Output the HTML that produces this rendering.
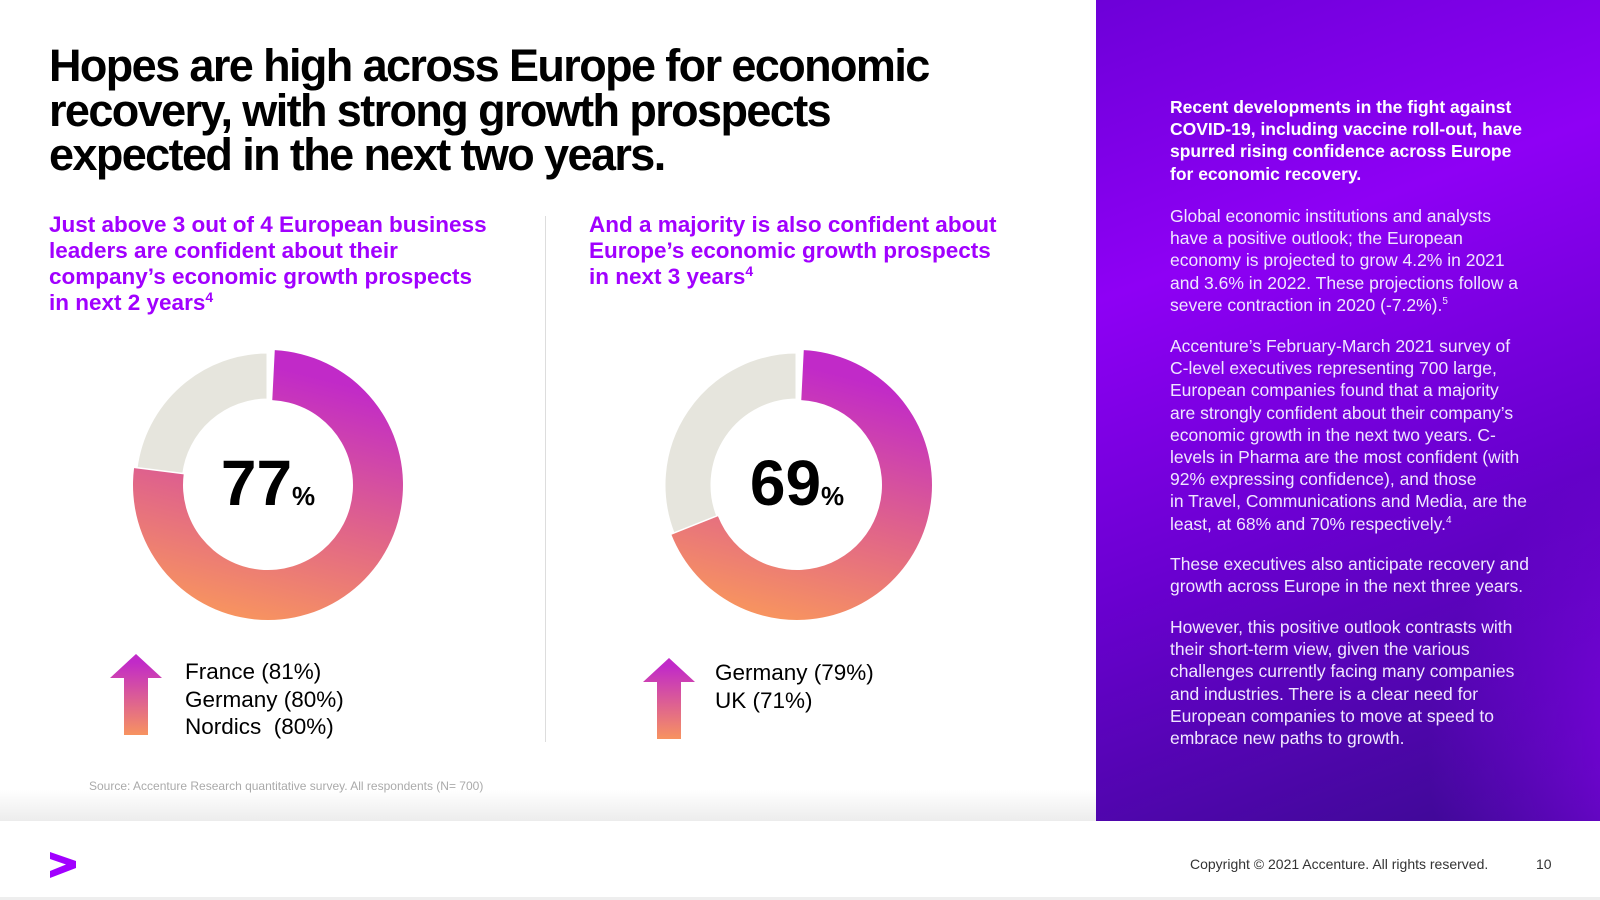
<!DOCTYPE html>
<html><head><meta charset="utf-8"><style>
*{margin:0;padding:0;box-sizing:border-box}
body{width:1600px;height:900px;position:relative;background:#fff;font-family:"Liberation Sans",sans-serif;overflow:hidden}
.abs{position:absolute}
h1{position:absolute;left:49px;top:44px;font-size:45px;line-height:44.5px;font-weight:bold;letter-spacing:-1.6px;color:#000;width:880px}
.sub{position:absolute;top:212px;font-size:22.5px;line-height:26px;font-weight:bold;color:#a100ff}
.sub sup{font-size:14px;line-height:0;vertical-align:8px}
.cty{position:absolute;font-size:22.5px;line-height:27.5px;color:#000}
#panel{position:absolute;left:1096px;top:0;width:504px;height:821px;background:linear-gradient(160deg,#6d00d8 0%,#8e00f5 30%,#6a00d0 60%,#3a0a90 100%);overflow:hidden}
#panel .glow{position:absolute;left:250px;top:400px;width:500px;height:500px;background:radial-gradient(circle at 80% 70%,rgba(150,0,255,.9),rgba(150,0,255,0) 60%)}
#panel p{position:absolute;left:74px;white-space:nowrap;color:#f0e6ff;font-size:17.5px;line-height:22.2px}
#panel p.b{font-weight:bold;color:#fff}
#panel sup{font-size:10px;line-height:0}
</style></head><body>
<h1>Hopes are high across Europe for economic recovery, with strong growth prospects expected in the next two years.</h1>
<div class="sub" style="left:49px;width:450px">Just above 3 out of 4 European business<br>leaders are confident about their<br>company’s economic growth prospects<br>in next 2 years<sup>4</sup></div>
<div class="sub" style="left:589px;width:450px">And a majority is also confident about<br>Europe’s economic growth prospects<br>in next 3 years<sup>4</sup></div>
<div class="abs" style="left:545px;top:216px;width:1px;height:526px;background:#ddd"></div>

<div class="abs" style="left:0;top:790px;width:1096px;height:31px;background:linear-gradient(#fff,#ececec)"></div>

<svg class="abs" style="left:0;top:0" width="1090" height="780" id="charts">
<defs>
<linearGradient id="g1" x1="0.7" y1="0" x2="0.45" y2="1"><stop offset="0.1" stop-color="#c12ac8"/><stop offset="0.6" stop-color="#e0648a"/><stop offset="1" stop-color="#f79360"/></linearGradient>
<linearGradient id="ga" x1="0" y1="0" x2="0" y2="1"><stop offset="0.1" stop-color="#c12ac8"/><stop offset="1" stop-color="#f79360"/></linearGradient>
</defs>
</svg>

<div class="cty" style="left:185px;top:658px">France (81%)<br>Germany (80%)<br>Nordics&nbsp; (80%)</div>
<div class="cty" style="left:715px;top:659px">Germany (79%)<br>UK (71%)</div>
<div class="abs" style="left:89px;top:779px;font-size:12px;color:#aaa;z-index:2">Source: Accenture Research quantitative survey. All respondents (N= 700)</div>

<div id="panel">
<div class="glow"></div>
<p class="b" style="top:96px">Recent developments in the fight against<br>COVID-19, including vaccine roll-out, have<br>spurred rising confidence across Europe<br>for economic recovery.</p>
<p style="top:205px">Global economic institutions and analysts<br>have a positive outlook; the European<br>economy is projected to grow 4.2% in 2021<br>and 3.6% in 2022. These projections follow a<br>severe contraction in 2020 (-7.2%).<sup>5</sup></p>
<p style="top:335px">Accenture’s February-March 2021 survey of<br>C-level executives representing 700 large,<br>European companies found that a majority<br>are strongly confident about their company’s<br>economic growth in the next two years. C-<br>levels in Pharma are the most confident (with<br>92% expressing confidence), and those<br>in Travel, Communications and Media, are the<br>least, at 68% and 70% respectively.<sup>4</sup></p>
<p style="top:553px">These executives also anticipate recovery and<br>growth across Europe in the next three years.</p>
<p style="top:616px">However, this positive outlook contrasts with<br>their short-term view, given the various<br>challenges currently facing many companies<br>and industries. There is a clear need for<br>European companies to move at speed to<br>embrace new paths to growth.</p>
</div>

<svg class="abs" style="left:50px;top:852px" width="26" height="26"><polygon points="0,0 26,9 26,16 0,26 0,19 16,12.5 0,7" fill="#a100ff"/></svg>
<div class="abs" style="left:1190px;top:856px;font-size:14px;color:#333">Copyright © 2021 Accenture. All rights reserved.</div>
<div class="abs" style="left:1536px;top:856px;font-size:14px;color:#333">10</div>
<div class="abs" style="left:0;top:897px;width:1600px;height:3px;background:#eee"></div>

<script>
const chartLabels = ["Next 2 years", "Next 3 years"];
const confidentValues = [77, 69];
const centers = [[268,485],[797,485]];
const svg = document.getElementById('charts');
const NS = 'http://www.w3.org/2000/svg';
const R = 135, r = 85;
function pt(cx,cy,rad,frac){const a=frac*2*Math.PI;return [cx+rad*Math.sin(a),cy-rad*Math.cos(a)];}
function arc(cx,cy,f0,f1,ro,ri){
  const large=(f1-f0)>0.5?1:0;
  const a=pt(cx,cy,ro,f0),b=pt(cx,cy,ro,f1),c=pt(cx,cy,ri,f1),d=pt(cx,cy,ri,f0);
  return `M${a[0]},${a[1]}A${ro},${ro} 0 ${large} 1 ${b[0]},${b[1]}L${c[0]},${c[1]}A${ri},${ri} 0 ${large} 0 ${d[0]},${d[1]}Z`;
}
confidentValues.forEach((v,i)=>{
  const [cx,cy]=centers[i];
  const f=v/100;
  const g=document.createElementNS(NS,'path');
  g.setAttribute('d',arc(cx,cy,f,1,R-2,r));
  g.setAttribute('fill','#e6e5dd');
  g.setAttribute('stroke','#fff');g.setAttribute('stroke-width','3');
  
  
  svg.appendChild(g);
  const p=document.createElementNS(NS,'path');
  p.setAttribute('d',arc(cx,cy,0.008,f,R,r));
  p.setAttribute('fill','url(#g1)');
  
  
  svg.appendChild(p);
  const t=document.createElementNS(NS,'text');
  t.setAttribute('x',cx);t.setAttribute('y',cy+20);
  t.setAttribute('text-anchor','middle');
  t.setAttribute('font-family','Liberation Sans, sans-serif');
  t.setAttribute('font-weight','bold');
  
  
  t.innerHTML=`<tspan font-size="64">${v}</tspan><tspan font-size="26">%</tspan>`;
  svg.appendChild(t);
});
const arrows=[[110,654],[643,658]];
arrows.forEach((a,i)=>{
  const [x,y]=a;
  const pg=document.createElementNS(NS,'polygon');
  pg.setAttribute('points',`${x+26},${y} ${x+52},${y+24} ${x+38},${y+24} ${x+38},${y+81} ${x+14},${y+81} ${x+14},${y+24} ${x},${y+24}`);
  pg.setAttribute('fill','url(#ga)');
  
  
  svg.appendChild(pg);
});
</script>
</body></html>
